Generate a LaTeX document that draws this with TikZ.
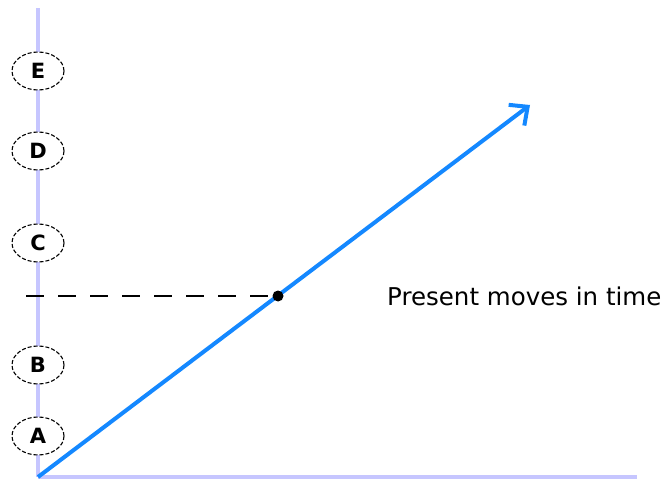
\documentclass[tikz,border=0pt]{standalone}
\usepackage{fontspec}
\setsansfont{DejaVu Sans}
\usetikzlibrary{positioning}
\usetikzlibrary{arrows.meta}
\usetikzlibrary{shapes.geometric}
\definecolor{ejeLila}{RGB}{198,198,255}
\definecolor{lineaAzul}{RGB}{20,136,255}
\tikzset{
  eje/.style={line width=4pt, draw=ejeLila},
  etapa/.style={
    ellipse, draw=black, dashed, dash pattern=on 4pt off 2pt, line width=1.1pt, fill=white,
    minimum width=52pt, minimum height=38pt, inner sep=0pt,
    font=\sffamily\bfseries\fontsize{21}{21}\selectfont
  },
  tiempo/.style={-{Straight Barb[length=14pt, width=26pt, line width=4pt]}, line width=4pt, draw=lineaAzul},
  punto/.style={circle, fill=black, minimum width=11pt, inner sep=0pt},
  guia/.style={dashed, dash pattern=on 18pt off 14pt, line width=1.4pt},
  rotulo/.style={font=\sffamily\fontsize{24.5}{24.5}\selectfont, anchor=west, inner sep=0pt}
}
\begin{document}
\begin{tikzpicture}[x=1pt, y=1pt]
  \useasboundingbox (0,0) rectangle (669,480);
  % axes
  \coordinate (orig) at (38,3);
  \coordinate (arriba) at (38,472);
  \coordinate (derecha) at (637,3);
  \draw[eje] (orig) -- (arriba);
  \draw[eje] (orig) -- (derecha);

  % events on the time axis
  \node[etapa] (A) at (38,44) {A};
  \node[etapa] (B) at (38,115) {B};
  \node[etapa] (C) at (38,237) {C};
  \node[etapa] (D) at (38,329) {D};
  \node[etapa] (E) at (38,409) {E};

  % present
  \coordinate (fin) at (530,375);
  \draw[tiempo] (orig) -- (fin);
  \node[punto] (ahora) at (278,184) {};
  \coordinate (inicioGuia) at (26,184);
  \draw[guia] (inicioGuia) -- (ahora);
  \node[rotulo] (texto) at (387,184) {Present moves in time};
\end{tikzpicture}
\end{document}
